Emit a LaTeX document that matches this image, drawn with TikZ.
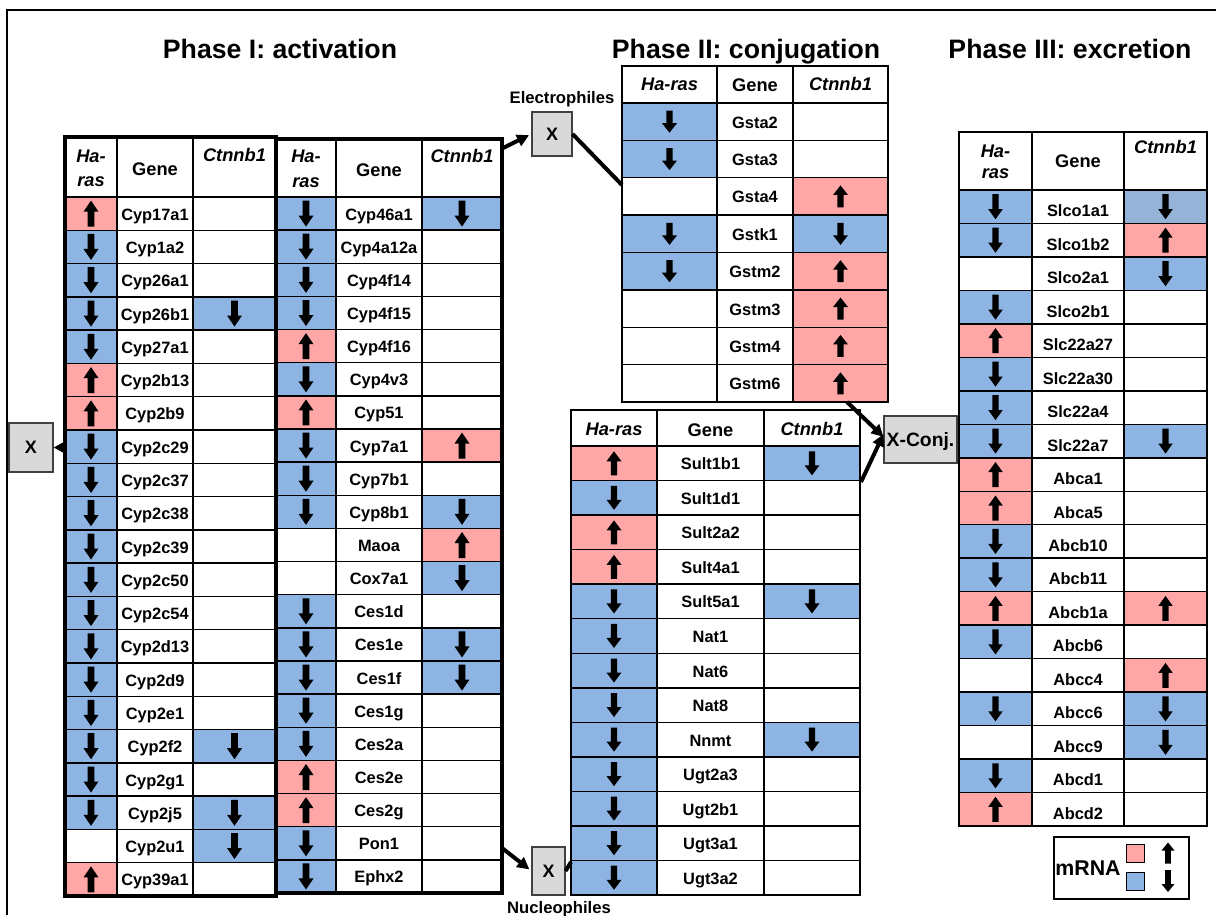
\documentclass[tikz,border=0pt]{standalone}
\usepackage{fontspec}
\setmainfont{Liberation Sans}
\usetikzlibrary{arrows.meta,calc}

\definecolor{upc}{HTML}{FFA6A6}
\definecolor{dnc}{HTML}{8DB4E2}
\definecolor{dncg}{HTML}{95B3D7}
\definecolor{boxg}{HTML}{D9D9D9}

% arrow glyph geometry (pixel units), changed per table
\def\arrH{26}\def\arrW{7}\def\arrS{2.8}\def\arrL{11}
\def\txoff{6.5}
\def\framestyle{thinframe}

\newcommand\uparrowshape{%
  \fill[black] (0,-\arrH/2) -- (\arrW,-\arrH/2+\arrL) -- (\arrS,-\arrH/2+\arrL)
    -- (\arrS,\arrH/2) -- (-\arrS,\arrH/2) -- (-\arrS,-\arrH/2+\arrL)
    -- (-\arrW,-\arrH/2+\arrL) -- cycle;}

\tikzset{
  gridline/.style={line width=1.1pt},
  thickframe/.style={line width=2.4pt},
  thinframe/.style={line width=1.4pt},
  genetxt/.style={font=\bfseries\fontsize{12.3pt}{14pt}\selectfont, anchor=base, inner sep=0pt},
  headtxt/.style={font=\bfseries\fontsize{13.7pt}{16pt}\selectfont, anchor=base, inner sep=0pt},
  headit/.style={font=\bfseries\itshape\fontsize{13.7pt}{16pt}\selectfont, anchor=base, inner sep=0pt},
  titletxt/.style={font=\bfseries\fontsize{20pt}{24pt}\selectfont, anchor=base, inner sep=0pt},
  labtxt/.style={font=\bfseries\fontsize{12.5pt}{15pt}\selectfont, anchor=base, inner sep=0pt},
  xbox/.style={draw=black!75, line width=0.8pt, fill=boxg, inner sep=0pt,
    font=\bfseries\fontsize{13.5pt}{16pt}\selectfont},
  conn/.style={line width=3pt, -{Triangle[length=9pt,width=9pt]}},
  link/.style={line width=3pt},
  celln/.style={}, cellu/.style={fill=upc}, celld/.style={fill=dnc}, cellg/.style={fill=dncg},
  pics/arrn/.style={code={}},
  pics/arru/.style={code={\uparrowshape}},
  pics/arrd/.style={code={\begin{scope}[yscale=-1]\uparrowshape\end{scope}}},
  pics/arrg/.style={code={\begin{scope}[yscale=-1]\uparrowshape\end{scope}}},
}

% #1 name, #2-#5 column edges, #6 top, #7 header bottom, #8 bottom, #9 rows h/gene/c
\newcommand\genetable[9]{%
  \foreach \e [count=\k] in {#9} {\xdef\nrows{\k}}%
  \pgfmathsetmacro\rh{(#8-#7)/\nrows}%
  % cell fills, arrows and gene names
  \foreach \h/\g/\c [count=\i] in {#9} {%
    \pgfmathsetmacro\ya{#7+(\i-1)*\rh}%
    \pgfmathsetmacro\yb{#7+\i*\rh}%
    \pgfmathsetmacro\ym{#7+(\i-0.5)*\rh}%
    \path[cell\h] (#2,\ya) rectangle (#3,\yb);
    \path[cell\c] (#4,\ya) rectangle (#5,\yb);
    \pic at ({(#2+#3)/2},\ym) {arr\h};
    \pic at ({(#4+#5)/2},\ym) {arr\c};
    \node[genetxt] (#1-\i) at ({(#3+#4)/2},\ym+\txoff) {\g};
  }
  % row rules on top of the fills
  \foreach \i in {1,...,\nrows} {%
    \pgfmathsetmacro\yb{#7+\i*\rh}%
    \draw[gridline] (#2,\yb) -- (#5,\yb);
  }
  \draw[gridline] (#2,#7) -- (#5,#7);
  \draw[gridline] (#3,#6) -- (#3,#8) (#4,#6) -- (#4,#8);
  \draw[\framestyle] (#2,#6) rectangle (#5,#8);
}

\begin{document}
\begin{tikzpicture}[x=0.75pt,y=-0.75pt]
\useasboundingbox (0,0) rectangle (1216,915);
\fill[white] (0,0) rectangle (1216,915);

% outer frame
\draw[line width=1.5pt] (7,915) -- (7,10) -- (1216,10);

% phase titles
\node[titletxt] (ph1) at (280,58) {Phase I: activation};
\node[titletxt] (ph2) at (746,58) {Phase II: conjugation};
\node[titletxt] (ph3) at (1070,58) {Phase III: excretion};

% ---------- Phase I, first column block ----------
\def\framestyle{thickframe}
\def\arrH{26}\def\arrW{7.5}\def\arrS{3.3}\def\arrL{11}\def\txoff{6.5}
\genetable{T1}{65}{117}{193}{276}{137}{197}{896}{%
  u/Cyp17a1/n, d/Cyp1a2/n, d/Cyp26a1/n, d/Cyp26b1/d, d/Cyp27a1/n,
  u/Cyp2b13/n, u/Cyp2b9/n, d/Cyp2c29/n, d/Cyp2c37/n, d/Cyp2c38/n,
  d/Cyp2c39/n, d/Cyp2c50/n, d/Cyp2c54/n, d/Cyp2d13/n, d/Cyp2d9/n,
  d/Cyp2e1/n, d/Cyp2f2/d, d/Cyp2g1/n, d/Cyp2j5/d, n/Cyp2u1/d, u/Cyp39a1/n}
\node[headit] (T1-ha) at (91,162) {Ha-};
\node[headit] (T1-hb) at (91,186) {ras};
\node[headtxt] (T1-hg) at (155,175) {Gene};
\node[headit] (T1-hc) at (234.5,161) {Ctnnb1};

% ---------- Phase I, second column block ----------
\genetable{T2}{276}{336}{422}{502}{139}{197}{893}{%
  d/Cyp46a1/d, d/Cyp4a12a/n, d/Cyp4f14/n, d/Cyp4f15/n, u/Cyp4f16/n,
  d/Cyp4v3/n, u/Cyp51/n, d/Cyp7a1/u, d/Cyp7b1/n, d/Cyp8b1/d,
  n/Maoa/u, n/Cox7a1/d, d/Ces1d/n, d/Ces1e/d, d/Ces1f/d,
  d/Ces1g/n, d/Ces2a/n, u/Ces2e/n, u/Ces2g/n, d/Pon1/n, d/Ephx2/n}
\node[headit] (T2-ha) at (306,162) {Ha-};
\node[headit] (T2-hb) at (306,187) {ras};
\node[headtxt] (T2-hg) at (379,176) {Gene};
\node[headit] (T2-hc) at (462,162) {Ctnnb1};

% ---------- Phase II, glutathione transferases ----------
\def\framestyle{thinframe}
\def\arrH{22}\def\arrW{7.5}\def\arrS{3.2}\def\arrL{9.5}\def\txoff{6.5}
\genetable{G}{622}{717}{793}{888}{66}{103}{402}{%
  d/Gsta2/n, d/Gsta3/n, n/Gsta4/u, d/Gstk1/d, d/Gstm2/u,
  n/Gstm3/u, n/Gstm4/u, n/Gstm6/u}
\node[headit] (G-ha) at (669.5,90) {Ha-ras};
\node[headtxt] (G-hg) at (755,91) {Gene};
\node[headit] (G-hc) at (840.5,90) {Ctnnb1};

% ---------- Phase II, sulfo-, acetyl-, methyl-, glucuronyl-transferases ----------
\def\arrH{24}\def\arrL{10}
\genetable{S}{571}{657}{764}{860}{410}{446}{895}{%
  u/Sult1b1/d, d/Sult1d1/n, u/Sult2a2/n, u/Sult4a1/n, d/Sult5a1/d,
  d/Nat1/n, d/Nat6/n, d/Nat8/n, d/Nnmt/d, d/Ugt2a3/n,
  d/Ugt2b1/n, d/Ugt3a1/n, d/Ugt3a2/n}
\node[headit] (S-ha) at (614,435) {Ha-ras};
\node[headtxt] (S-hg) at (710.5,436) {Gene};
\node[headit] (S-hc) at (812,435) {Ctnnb1};

% ---------- Phase III, transporters ----------
\def\arrH{25}\def\arrW{7.2}\def\arrS{3.2}\def\arrL{10}\def\txoff{10}
\genetable{E}{959}{1032}{1124}{1207}{132}{190}{826}{%
  d/Slco1a1/g, d/Slco1b2/u, n/Slco2a1/d, d/Slco2b1/n, u/Slc22a27/n,
  d/Slc22a30/n, d/Slc22a4/n, d/Slc22a7/d, u/Abca1/n, u/Abca5/n,
  d/Abcb10/n, d/Abcb11/n, u/Abcb1a/u, d/Abcb6/n, n/Abcc4/u,
  d/Abcc6/d, n/Abcc9/d, d/Abcd1/n, u/Abcd2/n}
\node[headit] (E-ha) at (995.5,157) {Ha-};
\node[headit] (E-hb) at (995.5,178) {ras};
\node[headtxt] (E-hg) at (1078,167) {Gene};
\node[headit] (E-hc) at (1165.5,153) {Ctnnb1};

% ---------- substrate boxes ----------
\node[xbox, minimum width=33pt, minimum height=36.75pt] (XL) at (31,447.5) {X};
\node[xbox, minimum width=30pt, minimum height=33pt] (XE) at (552,134) {X};
\node[xbox, minimum width=24.75pt, minimum height=36pt] (XN) at (548.5,871) {X};
\node[xbox, minimum width=54.75pt, minimum height=35.25pt, text depth=0pt,
  font=\bfseries\fontsize{14.5pt}{17pt}\selectfont] (XC) at (920.5,439.5) {X-Conj.};
\node[labtxt] (elab) at (562,103) {Electrophiles};
\node[labtxt] (nlab) at (559,913) {Nucleophiles};

% ---------- connectors ----------
\coordinate (cT1) at (66,447.5);
\coordinate (cT2a) at (503,148);
\coordinate (cT2b) at (502,848);
\coordinate (cG) at (622,185);
\coordinate (cS) at (571,862);
\coordinate (cGb) at (847,402);
\coordinate (cSr) at (861,482);
\draw[conn] (cT1) -- (XL.east);
\draw[conn, shorten >=2pt] (cT2a) -- (XE.west);
\draw[link] (XE.east) -- (cG);
\draw[conn, shorten >=2pt] (cT2b) -- (XN.west);
\draw[link] (XN.east) -- (cS);
\draw[conn] (cGb) -- ([yshift=2]XC.west);
\draw[conn] (cSr) -- ([yshift=4]XC.west);

% ---------- legend ----------
\node[draw, line width=1.5pt, minimum width=101.25pt, minimum height=46.5pt, inner sep=0pt]
  (leg) at (1121.5,868) {};
\node[font=\bfseries\fontsize{16pt}{19pt}\selectfont, anchor=base, inner sep=0pt]
  (legm) at (1088,875) {mRNA};
\node[draw, line width=0.6pt, fill=upc, minimum size=13.5pt, inner sep=0pt] (legu) at (1135,853) {};
\node[draw, line width=0.6pt, fill=dnc, minimum size=13.5pt, inner sep=0pt] (legd) at (1135,881.5) {};
\def\arrH{21}\def\arrW{6.5}\def\arrS{2.8}\def\arrL{8}
\pic at (1168,853) {arru};
\def\arrH{22}
\pic at (1168,881) {arrd};
\end{tikzpicture}
\end{document}
